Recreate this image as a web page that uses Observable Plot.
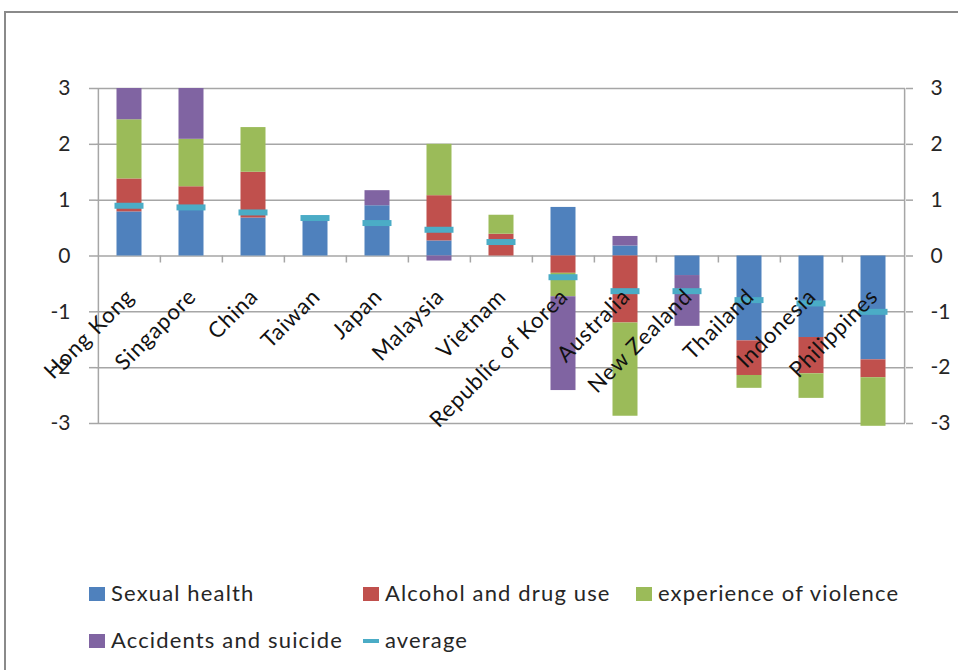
<!DOCTYPE html>
<html><head><meta charset="utf-8">
<script src="https://cdn.jsdelivr.net/npm/d3@7"></script>
<script src="https://cdn.jsdelivr.net/npm/@observablehq/plot@0.6"></script>
<style>
html,body{margin:0;padding:0;background:#fff;overflow:hidden;width:958px;height:670px;position:relative;}
#frame{position:absolute;left:4px;top:11px;width:1200px;height:1000px;border-left:2px solid #8a8a8a;border-top:2px solid #8a8a8a;}
#chart{position:absolute;left:0;top:0;}
.item{position:absolute;font-family:Lato,"Noto Sans",sans-serif;font-size:22px;letter-spacing:1.15px;color:#262626;white-space:nowrap;height:24px;line-height:24px;}
.sw{position:absolute;width:16px;height:14px;}
.ln{position:absolute;width:16px;height:4px;}
</style></head>
<body>
<div id="frame"></div>
<div id="chart"></div>
<div id="legend"></div>
<script>
const countries = ["Hong Kong","Singapore","China","Taiwan","Japan","Malaysia","Vietnam","Republic of Korea","Australia","New Zealand","Thailand","Indonesia","Philippines"];
const sexualHealth     = [0.79, 0.88, 0.68, 0.65, 0.90, 0.27, 0.00, 0.87, 0.18, -0.35, -1.52, -1.46, -1.86];
const alcoholDrugUse   = [0.59, 0.36, 0.82, 0.00, 0.00, 0.81, 0.39, -0.31, -1.20, 0.00, -0.62, -0.65, -0.32];
const violence         = [1.06, 0.85, 0.80, 0.00, 0.00, 0.92, 0.34, -0.42, -1.67, 0.00, -0.23, -0.44, -0.87];
const accidentsSuicide = [0.56, 0.91, 0.00, 0.00, 0.27, -0.09, 0.00, -1.68, 0.17, -0.91, 0.00, 0.00, 0.00];
const average          = [0.90, 0.87, 0.78, 0.68, 0.59, 0.47, 0.25, -0.38, -0.63, -0.63, -0.79, -0.85, -1.00];
const seriesNames = ["Sexual health","Alcohol and drug use","experience of violence","Accidents and suicide"];
const seriesColors = ["#4F81BD","#C0504D","#9BBB59","#8064A2"];
const averageName = "average";
const averageColor = "#4BACC6";
const yTicks = [-3,-2,-1,0,1,2,3];

const seriesValues = [sexualHealth, alcoholDrugUse, violence, accidentsSuicide];
const rows = [];
seriesValues.forEach((arr, s) => countries.forEach((c, i) => rows.push({country: c, series: seriesNames[s], value: arr[i]})));
const avgRows = countries.map((c, i) => ({country: c, avg: average[i]}));

const W = 958, H = 560, mL = 96, mR = 53, mT = 88, mB = 137;
const bandW = (W - mL - mR) / countries.length;
const gray = "#a6a6a6";

const chart = Plot.plot({
  width: W, height: H, marginLeft: mL, marginRight: mR, marginTop: mT, marginBottom: mB,
  style: {fontFamily: "Lato, 'Noto Sans', sans-serif", fontSize: "20px", color: "#262626", background: "transparent", overflow: "visible"},
  x: {type: "band", domain: countries, padding: 0, axis: null},
  y: {domain: [-3, 3], axis: null},
  color: {domain: seriesNames, range: seriesColors},
  marks: [
    Plot.ruleY(yTicks, {stroke: gray, strokeWidth: 1.5}),
    Plot.axisY({anchor: "left", ticks: yTicks, tickSize: 7, tickPadding: 19, stroke: gray, strokeWidth: 1.5, tickFormat: d => String(d), fill: "#262626", fontSize: 21, label: null}),
    Plot.axisY({anchor: "right", ticks: yTicks, tickSize: 7, tickPadding: 18, stroke: gray, strokeWidth: 1.5, tickFormat: d => String(d), fill: "#262626", fontSize: 21, label: null}),
    Plot.ruleX([countries[0]], {x: d => d, dx: -bandW / 2, stroke: gray, strokeWidth: 1.5}),
    Plot.ruleX([countries[countries.length - 1]], {x: d => d, dx: bandW / 2, stroke: gray, strokeWidth: 1.5}),
    Plot.ruleX(countries.slice(1), {x: d => d, y1: () => 0, y2: () => 0, insetBottom: -7, dx: -bandW / 2, stroke: gray, strokeWidth: 1.5}),
    Plot.barY(rows, {x: "country", y: "value", fill: "series", insetLeft: 18.5, insetRight: 18.5}),
    Plot.tickY(avgRows, {x: "country", y: "avg", stroke: averageColor, strokeWidth: 6, insetLeft: 16.5, insetRight: 16.5}),
    Plot.text(countries, {x: d => d, y: () => 0, text: d => d, rotate: -45, textAnchor: "end", dx: 1, dy: 37, fontSize: 22, fill: "#111"})
  ]
});
chart.querySelectorAll("g[aria-label='text'] text").forEach(t => { t.style.letterSpacing = "0.9px"; });
document.getElementById("chart").appendChild(chart);

// legend
const legend = document.getElementById("legend");
const items = [
  {name: seriesNames[0], color: seriesColors[0], type: "sw", x: 89, y: 581},
  {name: seriesNames[1], color: seriesColors[1], type: "sw", x: 363, y: 581},
  {name: seriesNames[2], color: seriesColors[2], type: "sw", x: 636, y: 581},
  {name: seriesNames[3], color: seriesColors[3], type: "sw", x: 89, y: 628},
  {name: averageName, color: averageColor, type: "ln", x: 363, y: 628}
];
items.forEach(it => {
  const d = document.createElement("div");
  d.className = "item";
  d.style.left = it.x + "px";
  d.style.top = it.y + "px";
  const s = document.createElement("div");
  s.className = it.type;
  s.style.background = it.color;
  s.style.left = "0px";
  s.style.top = it.type === "sw" ? "6px" : "11px";
  d.appendChild(s);
  const t = document.createElement("span");
  t.textContent = it.name;
  t.style.marginLeft = "22px";
  d.appendChild(t);
  legend.appendChild(d);
});
</script>
</body></html>
